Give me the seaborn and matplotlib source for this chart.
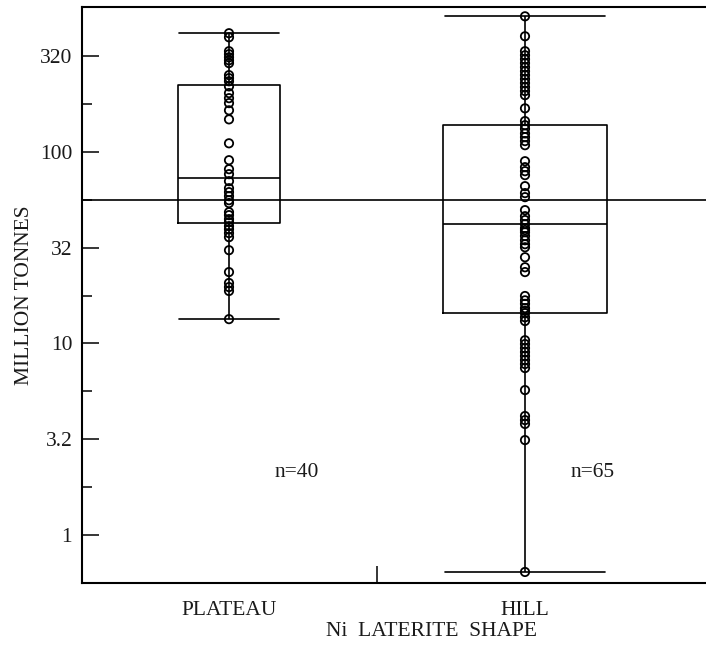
import numpy as np
import pandas as pd
import matplotlib
matplotlib.use("Agg")
import matplotlib.pyplot as plt
import seaborn as sns
from matplotlib.ticker import FixedLocator, FixedFormatter, NullFormatter

# ---- data (million tonnes) ----
categories = ["PLATEAU", "HILL"]
plateau = [417, 397, 336, 324, 312, 301, 291, 252, 243, 234, 220, 203, 191, 180,
           165, 148, 111, 90.6, 81.3, 76.6, 70.4, 64.7, 61.7, 58.8, 56.0, 54.1,
           48.5, 46.8, 44.6, 43.0, 41.0, 39.5, 37.7, 35.9, 30.7, 23.6, 20.7,
           19.7, 18.8, 13.4]
hill = [511, 402, 336, 320, 305, 291, 277, 264, 252, 240, 229, 218, 208, 198,
        169, 145, 138, 132, 125, 119.5, 114, 108.5, 89.5, 83.3, 79.4, 75.7,
        66.3, 61.0, 58.1, 49.7, 46.2, 44.1, 42.0, 40.0, 39.1, 38.1, 36.4, 34.6,
        33.0, 31.8, 28.2, 25.0, 23.6, 17.7, 16.8, 16.1, 15.3, 14.8, 14.4, 13.7,
        13.1, 10.4, 9.93, 9.46, 9.02, 8.60, 8.19, 7.81, 7.44, 5.71, 4.18, 3.98,
        3.80, 3.13, 0.641]
reference_level = 56.0
ytick_values = [1, 10 ** 0.5, 10, 10 ** 1.5, 100, 10 ** 2.5]
ytick_labels = ["1", "3.2", "10", "32", "100", "320"]
yminor_values = [10 ** 0.25, 10 ** 0.75, 10 ** 1.25, 10 ** 1.75, 10 ** 2.25]
n_labels = ["n=40", "n=65"]

df = pd.DataFrame({
    "shape": ["PLATEAU"] * len(plateau) + ["HILL"] * len(hill),
    "tonnes": plateau + hill,
})

sns.set_theme(style="ticks")
plt.rcParams["font.family"] = ["Liberation Serif", "DejaVu Serif"]
FS = 15.5
TXT = "#1a1a1a"

fig = plt.figure(figsize=(7.06, 6.47), dpi=100)
ax = fig.add_axes([82 / 706, 64 / 647, 624 / 706, 576 / 647])
ax.set_yscale("log")

widths = {"PLATEAU": 0.345, "HILL": 0.557}
for cat in categories:
    sub = df[df["shape"] == cat]
    sns.boxplot(data=sub, x="shape", y="tonnes", order=categories, ax=ax,
                fill=False, color="black", linewidth=1.2, whis=(0, 100),
                showfliers=False, width=widths[cat], capwidths=widths[cat] * 0.97)

sns.stripplot(data=df, x="shape", y="tonnes", order=categories, ax=ax,
              jitter=False, size=6, marker="o", facecolor="none",
              edgecolor="black", linewidth=1.3, zorder=3)

ax.axhline(reference_level, color="black", lw=1.2, zorder=1)

ax.set_xlim(-0.4966, 1.6115)
ax.set_ylim(0.5614, 571.6)

ax.yaxis.set_major_locator(FixedLocator(ytick_values))
ax.yaxis.set_major_formatter(FixedFormatter(ytick_labels))
ax.yaxis.set_minor_locator(FixedLocator(yminor_values))
ax.yaxis.set_minor_formatter(NullFormatter())
ax.tick_params(axis="y", which="major", direction="in", length=12.5, width=1.1,
               pad=7, labelsize=FS, labelcolor=TXT, color="black", left=True)
ax.tick_params(axis="y", which="minor", direction="in", length=7.5, width=1.1,
               color="black", left=True)

ax.set_xticks([0, 1])
ax.set_xticklabels(categories)
ax.set_xticks([0.5], minor=True)
ax.tick_params(axis="x", which="major", length=0, pad=13, labelsize=FS,
               labelcolor=TXT)
ax.tick_params(axis="x", which="minor", direction="in", length=12, width=1.1,
               color="black", bottom=True)

for i, lab in enumerate(n_labels):
    ax.text(i + 0.23, 2.11, lab, ha="center", va="center", fontsize=FS, color=TXT)

ax.set_xlabel("Ni  LATERITE  SHAPE", fontsize=FS, color=TXT)
ax.xaxis.set_label_coords((432 - 82) / 624, -0.068)
ax.xaxis.label.set_va("top")
ax.set_ylabel("MILLION TONNES", fontsize=FS, color=TXT)
ax.yaxis.set_label_coords(-(82 - 25) / 624, 0.5)
ax.yaxis.label.set_va("center")

for s in ["left", "top", "bottom"]:
    ax.spines[s].set_linewidth(1.5)
    ax.spines[s].set_color("black")
ax.spines["right"].set_visible(False)
ax.grid(False)

fig.savefig("out.png", dpi=100)
